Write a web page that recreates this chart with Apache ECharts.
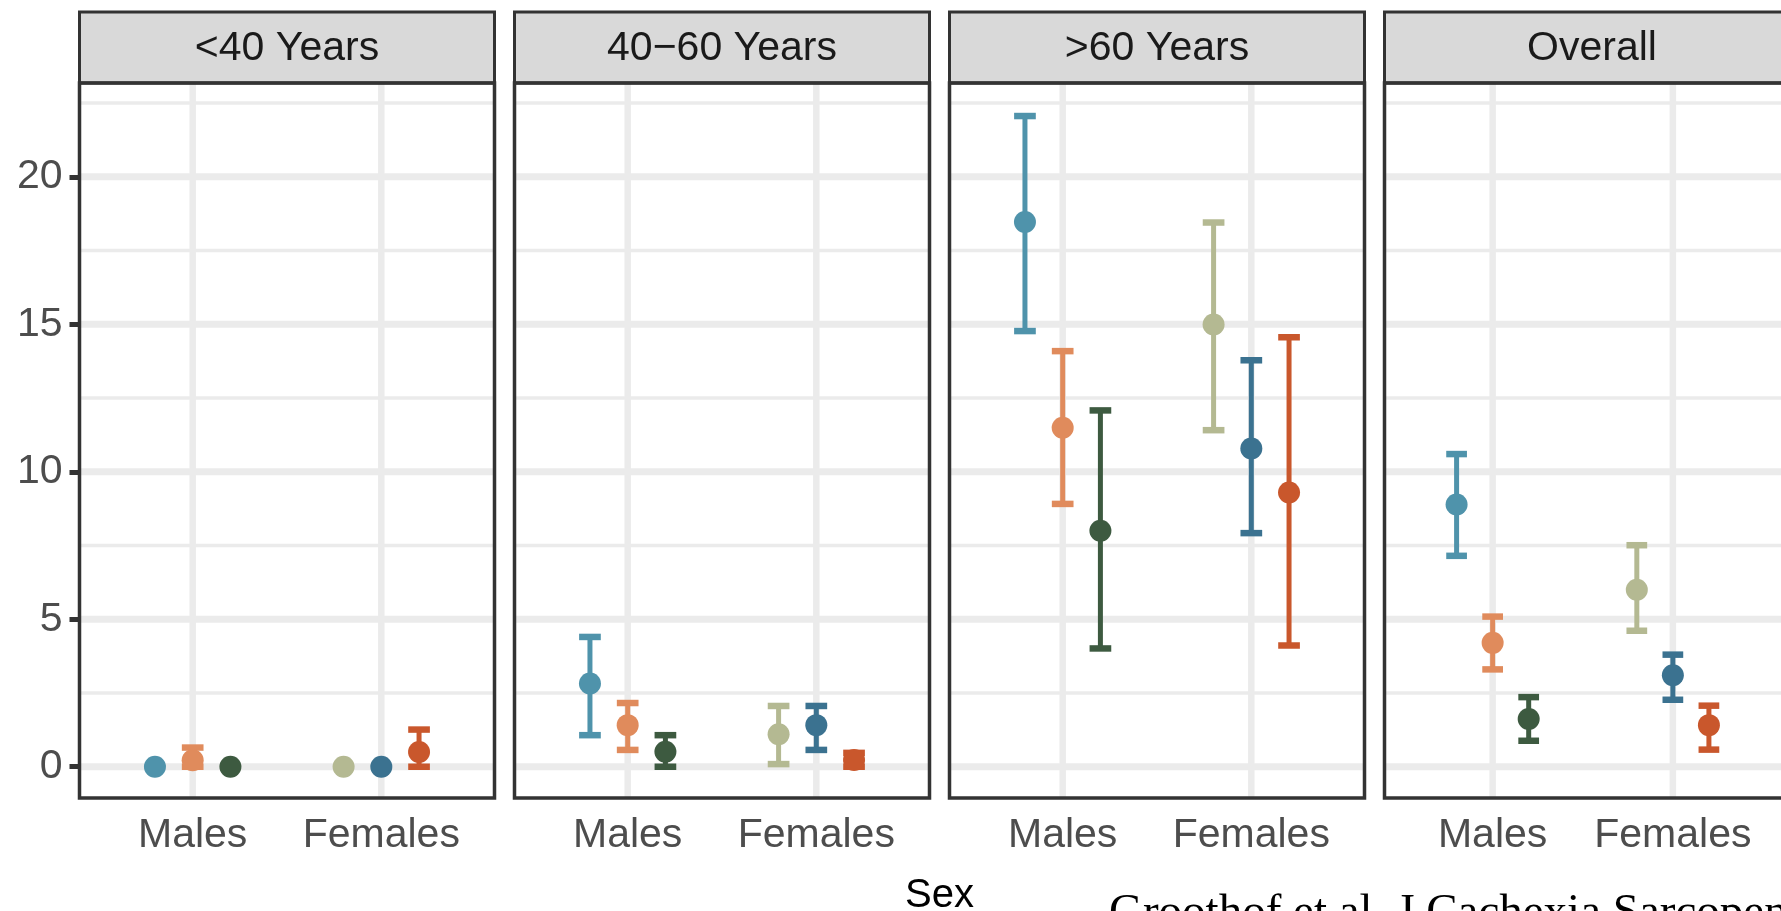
<!DOCTYPE html>
<html>
<head>
<meta charset="utf-8">
<script src="https://cdn.jsdelivr.net/npm/echarts@6/dist/echarts.min.js"></script>
<style>
html,body{margin:0;padding:0;background:#ffffff;overflow:hidden}
#chart{width:1781px;height:911px}
</style>
</head>
<body>
<div id="chart"></div>
<script>
// ---------------- data ----------------
const sexCategories = ['Males', 'Females'];
const panelTitles = ['<40 Years', '40\u221260 Years', '>60 Years', 'Overall'];
const yTickValues = [0, 5, 10, 15, 20];
const yMinorValues = [2.5, 7.5, 12.5, 17.5, 22.5];

// group order: Males g1, g2, g3, Females g1, g2, g3
const under40Est  = [0, 0.22, 0, 0, 0, 0.5];
const under40Low  = [null, 0, null, null, null, 0];
const under40High = [null, 0.65, null, null, null, 1.26];

const age40to60Est  = [2.82, 1.41, 0.51, 1.10, 1.41, 0.23];
const age40to60Low  = [1.07, 0.57, 0.00, 0.09, 0.57, 0.00];
const age40to60High = [4.40, 2.16, 1.07, 2.06, 2.06, 0.47];

const over60Est  = [18.47, 11.49, 8.00, 14.99, 10.79, 9.30];
const over60Low  = [14.77, 8.91, 4.01, 11.41, 7.92, 4.11];
const over60High = [22.06, 14.09, 12.08, 18.45, 13.78, 14.56];

const overallEst  = [8.89, 4.20, 1.62, 6.00, 3.10, 1.41];
const overallLow  = [7.15, 3.30, 0.88, 4.61, 2.27, 0.58];
const overallHigh = [10.60, 5.09, 2.36, 7.51, 3.80, 2.07];

// ---------------- styles / layout ----------------
const groupColors = ['#4F93AB', '#E08B5C', '#3D5A40', '#B4B992', '#3B7290', '#C9572C'];
const DODGE = 0.2;        // dodge step in axis units
const CAP_WIDTH = 0.115;  // error bar cap width in axis units
const SANS = '"Liberation Sans", Arial, Helvetica, sans-serif';
const SERIF = '"Liberation Serif", "Times New Roman", serif';
const L0 = 79.5, PW = 415, PITCH = 435, TOP = 83, PH = 715;
const STRIP_TOP = 12, STRIP_H = 71;
const Y_MIN = -1.06, Y_MAX = 23.18;

const panelData = [
  {est: under40Est, lo: under40Low, hi: under40High},
  {est: age40to60Est, lo: age40to60Low, hi: age40to60High},
  {est: over60Est, lo: over60Low, hi: over60High},
  {est: overallEst, lo: overallLow, hi: overallHigh}
];

function groupX(i) {
  const sexIdx = Math.floor(i / 3);
  return (sexIdx + 1) + ((i % 3) - 1) * DODGE;
}

function gridRender(params, api) {
  const cs = params.coordSys;
  const kind = api.value(0), v = api.value(1);
  if (kind === 2) {
    const x = api.coord([v, 0])[0];
    return {type: 'line', shape: {x1: x, y1: cs.y, x2: x, y2: cs.y + cs.height},
      style: {stroke: '#EBEBEB', lineWidth: 6.5}};
  }
  const y = api.coord([1, v])[1];
  return {type: 'line', shape: {x1: cs.x, y1: y, x2: cs.x + cs.width, y2: y},
    style: {stroke: '#EBEBEB', lineWidth: kind === 1 ? 7 : 3.5}};
}

function errRender(params, api) {
  const x = api.value(0), lo = api.value(1), hi = api.value(2);
  const pLo = api.coord([x, lo]), pHi = api.coord([x, hi]);
  const hw = api.size([CAP_WIDTH, 0])[0] / 2;
  const color = api.visual('color');
  return {type: 'group', children: [
    {type: 'line', shape: {x1: pLo[0], y1: pLo[1], x2: pHi[0], y2: pHi[1]}, style: {stroke: color, lineWidth: 5}},
    {type: 'line', shape: {x1: pLo[0] - hw, y1: pLo[1], x2: pLo[0] + hw, y2: pLo[1]}, style: {stroke: color, lineWidth: 6.5}},
    {type: 'line', shape: {x1: pHi[0] - hw, y1: pHi[1], x2: pHi[0] + hw, y2: pHi[1]}, style: {stroke: color, lineWidth: 6.5}}
  ]};
}

const grids = [], xAxes = [], yAxes = [], series = [], graphics = [];

panelData.forEach((p, k) => {
  const left = L0 + k * PITCH;
  grids.push({left: left, top: TOP, width: PW, height: PH, show: true,
    backgroundColor: '#FFFFFF', borderWidth: 0});
  xAxes.push({
    gridIndex: k, type: 'value', min: 0.4, max: 2.6,
    axisLine: {show: false},
    splitLine: {show: false},
    axisTick: {show: true, customValues: [1, 2], length: 11, lineStyle: {color: '#333333', width: 5}},
    axisLabel: {show: true, customValues: [1, 2], margin: 17,
      formatter: v => sexCategories[Math.round(v) - 1] || '',
      fontSize: 41, color: '#4D4D4D', fontFamily: SANS}
  });
  yAxes.push({
    gridIndex: k, type: 'value', min: Y_MIN, max: Y_MAX,
    axisLine: {show: false},
    splitLine: {show: false},
    axisTick: {show: k === 0, customValues: yTickValues, length: 10, lineStyle: {color: '#333333', width: 5}},
    axisLabel: {show: k === 0, customValues: yTickValues, margin: 17,
      fontSize: 41, color: '#4D4D4D', fontFamily: SANS}
  });

  const gridItems = [];
  yMinorValues.forEach(v => gridItems.push([0, v]));
  yTickValues.forEach(v => gridItems.push([1, v]));
  [1, 2].forEach(v => gridItems.push([2, v]));
  series.push({type: 'custom', xAxisIndex: k, yAxisIndex: k, z: 1, silent: true,
    renderItem: gridRender, data: gridItems, encode: {x: -1, y: -1}});

  const errItems = [];
  const ptItems = [];
  p.est.forEach((e, i) => {
    const x = groupX(i);
    if (p.lo[i] !== null && p.hi[i] !== null) {
      errItems.push({value: [x, p.lo[i], p.hi[i]], itemStyle: {color: groupColors[i]}});
    }
    ptItems.push({value: [x, e], itemStyle: {color: groupColors[i]}});
  });
  series.push({type: 'custom', xAxisIndex: k, yAxisIndex: k, z: 3, silent: true,
    renderItem: errRender, data: errItems, encode: {x: 0, y: [1, 2]}});
  series.push({type: 'scatter', xAxisIndex: k, yAxisIndex: k, z: 4, silent: true,
    symbol: 'circle', symbolSize: 22, data: ptItems, itemStyle: {opacity: 1}});

  // strip
  graphics.push({type: 'rect', z: 100, shape: {x: left, y: STRIP_TOP, width: PW, height: STRIP_H},
    style: {fill: '#D9D9D9', stroke: '#333333', lineWidth: 3}});
  graphics.push({type: 'text', z: 101, x: left + PW / 2, y: STRIP_TOP + STRIP_H / 2 + 1,
    style: {text: panelTitles[k], fill: '#1A1A1A', fontSize: 41, fontFamily: SANS,
      align: 'center', verticalAlign: 'middle'}});
  // panel border
  graphics.push({type: 'rect', z: 100, shape: {x: left, y: TOP, width: PW, height: PH},
    style: {fill: null, stroke: '#333333', lineWidth: 3.5}});
});

graphics.push({type: 'text', z: 101, x: L0 + (3 * PITCH + PW) / 2, y: 896,
  style: {text: 'Sex', fill: '#000000', fontSize: 40, fontFamily: SANS,
    align: 'center', verticalAlign: 'middle'}});
graphics.push({type: 'text', z: 101, x: 1109, y: 914,
  style: {text: 'Groothof et al. J Cachexia Sarcopenia Muscle', fill: '#000000',
    fontSize: 47, fontFamily: SERIF, align: 'left', verticalAlign: 'middle'}});

const chart = echarts.init(document.getElementById('chart'), null, {renderer: 'canvas'});
chart.setOption({
  animation: false,
  backgroundColor: '#FFFFFF',
  grid: grids,
  xAxis: xAxes,
  yAxis: yAxes,
  series: series,
  graphic: {elements: graphics}
});
</script>
</body>
</html>
